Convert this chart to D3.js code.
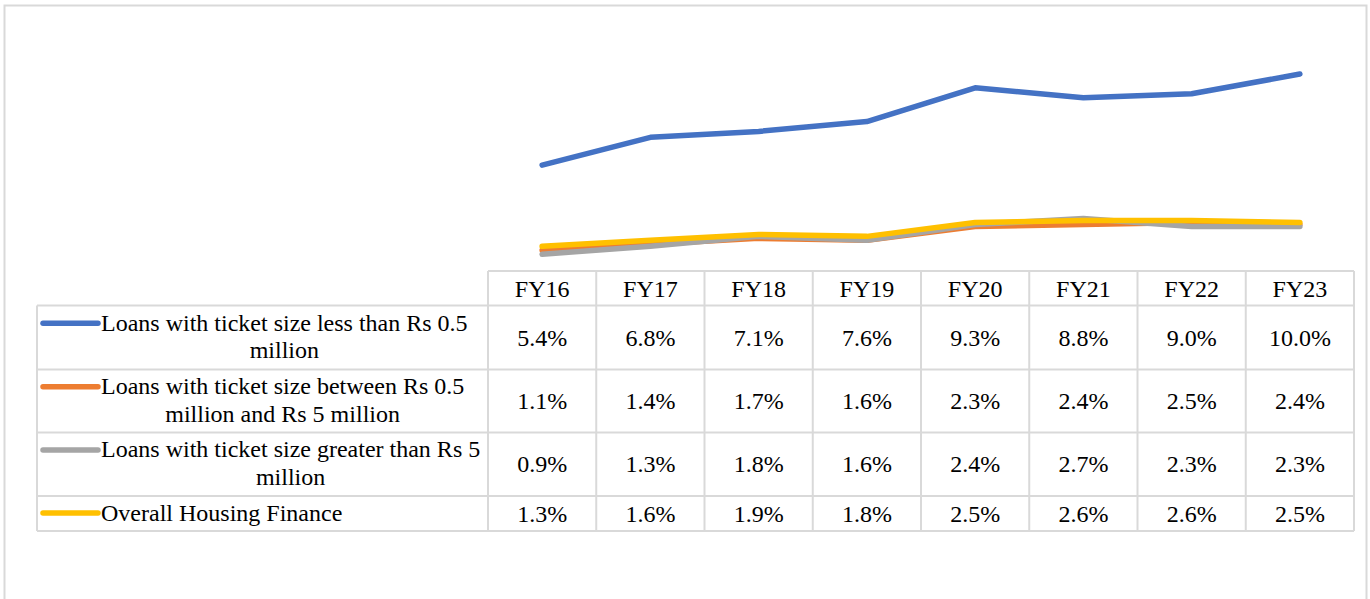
<!DOCTYPE html>
<html>
<head>
<meta charset="utf-8">
<script src="https://cdn.jsdelivr.net/npm/d3@7"></script>
<style>
  html, body { margin: 0; padding: 0; background: #fff; }
  svg { display: block; }
  text { font-family: "Liberation Serif", "Times New Roman", serif; fill: #000; }
</style>
</head>
<body>
<svg id="chart" width="1370" height="599"></svg>
<script>
// Fiscal years shown on the category axis / table header
const years = ["FY16", "FY17", "FY18", "FY19", "FY20", "FY21", "FY22", "FY23"];

// Series names
const seriesNames = [
  "Loans with ticket size less than Rs 0.5 million",
  "Loans with ticket size between Rs 0.5 million and Rs 5 million",
  "Loans with ticket size greater than Rs 5 million",
  "Overall Housing Finance"
];

// Values in percent
const lessThan05 = [5.4, 6.8, 7.1, 7.6, 9.3, 8.8, 9.0, 10.0];
const between05and5 = [1.1, 1.4, 1.7, 1.6, 2.3, 2.4, 2.5, 2.4];
const greaterThan5 = [0.9, 1.3, 1.8, 1.6, 2.4, 2.7, 2.3, 2.3];
const overall = [1.3, 1.6, 1.9, 1.8, 2.5, 2.6, 2.6, 2.5];

const seriesColors = ["#4472C4", "#ED7D31", "#A5A5A5", "#FFC000"];

const series = [lessThan05, between05and5, greaterThan5, overall].map((values, i) => ({
  name: seriesNames[i], values, color: seriesColors[i]
}));

const svg = d3.select("#chart");
const gridColor = "#d9d9d9";

// Outer chart frame
svg.append("rect")
  .attr("x", 4.5).attr("y", 5.5)
  .attr("width", 1362).attr("height", 640)
  .attr("fill", "none").attr("stroke", gridColor).attr("stroke-width", 2);

// Layout of the data table underneath the plot
const tableLeft = 37, colStart = 488, tableRight = 1354;
const headerTop = 271, headerBottom = 305.5;
const rowBottoms = [369.5, 432.5, 496, 531];

const x = d3.scaleBand().domain(years).range([colStart, tableRight]).padding(0);
const y = d3.scaleLinear().domain([0, 12]).range([headerTop + 1, 34.4]);

// Lines
const line = d3.line()
  .x((d, i) => x(years[i]) + x.bandwidth() / 2)
  .y(d => y(d));

svg.append("g").selectAll("path")
  .data(series)
  .join("path")
  .attr("d", d => line(d.values))
  .attr("fill", "none")
  .attr("stroke", d => d.color)
  .attr("stroke-width", 5.5)
  .attr("stroke-linecap", "round")
  .attr("stroke-linejoin", "round");

// Table grid
const grid = svg.append("g").attr("stroke", gridColor).attr("stroke-width", 2).attr("fill", "none");
// header row horizontal lines
grid.append("line").attr("x1", colStart).attr("x2", tableRight).attr("y1", headerTop).attr("y2", headerTop);
grid.append("line").attr("x1", tableLeft).attr("x2", tableRight).attr("y1", headerBottom).attr("y2", headerBottom);
rowBottoms.forEach(b => {
  grid.append("line").attr("x1", tableLeft).attr("x2", tableRight).attr("y1", b).attr("y2", b);
});
// vertical lines
grid.append("line").attr("x1", tableLeft).attr("x2", tableLeft).attr("y1", headerBottom).attr("y2", rowBottoms[3]);
years.forEach(yr => {
  grid.append("line").attr("x1", x(yr)).attr("x2", x(yr)).attr("y1", headerTop).attr("y2", rowBottoms[3]);
});
grid.append("line").attr("x1", tableRight).attr("x2", tableRight).attr("y1", headerTop).attr("y2", rowBottoms[3]);

const fontSize = 24;

// Header labels
svg.append("g").selectAll("text")
  .data(years)
  .join("text")
  .attr("x", d => x(d) + x.bandwidth() / 2)
  .attr("y", headerTop + 26)
  .attr("text-anchor", "middle")
  .attr("font-size", fontSize)
  .text(d => d);

// Rows: legend key + wrapped name + values
const rowTops = [headerBottom, ...rowBottoms.slice(0, 3)];
const keyX1 = 43, keyX2 = 98, textX = 101, maxTextW = 382, lineH = 27.6;

series.forEach((s, i) => {
  const top = rowTops[i], bottom = rowBottoms[i];
  const mid = (top + bottom) / 2;
  const g = svg.append("g");

  // word wrap the series name
  const words = s.name.split(" ");
  const probe = g.append("text").attr("font-size", fontSize);
  const lines = [];
  let cur = "";
  words.forEach(w => {
    const test = cur ? cur + " " + w : w;
    probe.text(test);
    if (probe.node().getComputedTextLength() > maxTextW && cur) {
      lines.push(cur);
      cur = w;
    } else {
      cur = test;
    }
  });
  lines.push(cur);
  const widths = lines.map(l => { probe.text(l); return probe.node().getComputedTextLength(); });
  probe.remove();
  const blockW = d3.max(widths);
  const cx = textX + blockW / 2;

  const firstBaseline = mid + 7 - (lines.length - 1) * lineH / 2;
  lines.forEach((l, j) => {
    g.append("text")
      .attr("x", lines.length > 1 ? cx : textX)
      .attr("y", firstBaseline + j * lineH)
      .attr("text-anchor", lines.length > 1 ? "middle" : "start")
      .attr("font-size", fontSize)
      .text(l);
  });

  // legend key
  g.append("line")
    .attr("x1", keyX1).attr("x2", keyX2)
    .attr("y1", firstBaseline - 7.5).attr("y2", firstBaseline - 7.5)
    .attr("stroke", s.color).attr("stroke-width", 5.5).attr("stroke-linecap", "round");

  // values
  g.selectAll("text.val")
    .data(s.values)
    .join("text")
    .attr("class", "val")
    .attr("x", (d, k) => x(years[k]) + x.bandwidth() / 2)
    .attr("y", mid + 8)
    .attr("text-anchor", "middle")
    .attr("font-size", fontSize)
    .text(d => d.toFixed(1) + "%");
});
</script>
</body>
</html>
